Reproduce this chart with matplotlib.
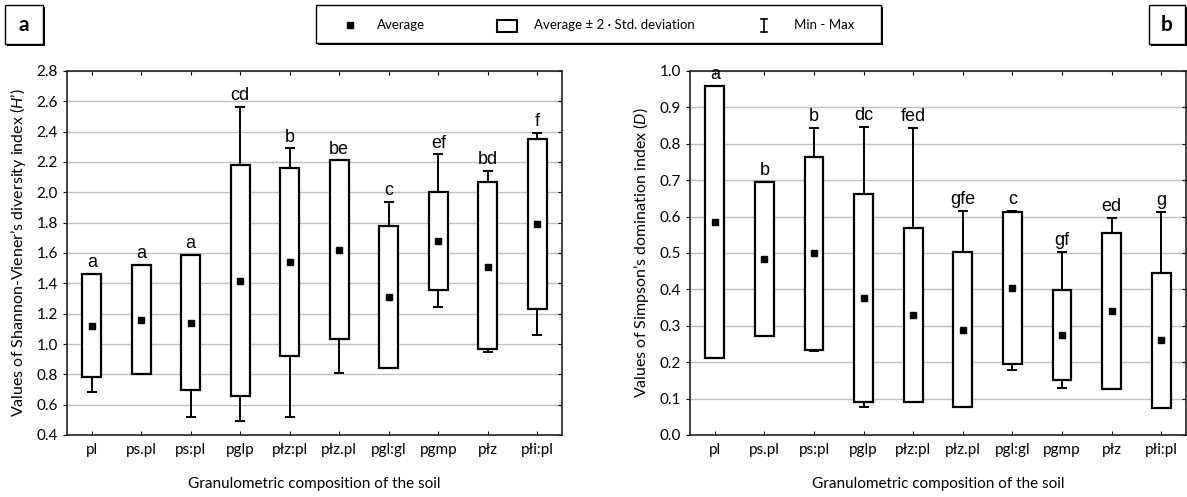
import numpy as np
import matplotlib
matplotlib.use("Agg")
import matplotlib.pyplot as plt
from matplotlib.patches import Rectangle

# granulometric groups (x axis)
categories = ["pl", "ps.pl", "ps:pl", "pglp", "płz:pl", "płz.pl", "pgl:gl", "pgmp", "płz", "płi:pl"]

# Shannon-Viener H'
sh_avg = [1.12, 1.16, 1.14, 1.415, 1.54, 1.62, 1.31, 1.68, 1.51, 1.79]
sh_lo = [0.785, 0.80, 0.695, 0.66, 0.92, 1.03, 0.845, 1.355, 0.97, 1.23]
sh_hi = [1.46, 1.52, 1.585, 2.18, 2.16, 2.21, 1.775, 2.005, 2.065, 2.35]
sh_min = [0.685, 0.80, 0.52, 0.49, 0.52, 0.81, 0.845, 1.245, 0.945, 1.06]
sh_max = [1.46, 1.52, 1.585, 2.565, 2.29, 2.21, 1.935, 2.25, 2.14, 2.39]
sh_letters = ["a", "a", "a", "cd", "b", "be", "c", "ef", "bd", "f"]

# Simpson D
si_avg = [0.584, 0.483, 0.50, 0.377, 0.33, 0.288, 0.405, 0.275, 0.34, 0.261]
si_lo = [0.211, 0.273, 0.234, 0.09, 0.092, 0.076, 0.195, 0.152, 0.126, 0.074]
si_hi = [0.96, 0.696, 0.764, 0.663, 0.568, 0.504, 0.612, 0.398, 0.555, 0.444]
si_min = [0.211, 0.273, 0.23, 0.078, 0.092, 0.076, 0.179, 0.128, 0.126, 0.074]
si_max = [0.96, 0.696, 0.843, 0.847, 0.843, 0.616, 0.615, 0.504, 0.596, 0.612]
si_letters = ["a", "b", "b", "dc", "fed", "gfe", "c", "gf", "ed", "g"]

plt.rcParams['font.family'] = ['Lato', 'DejaVu Sans']
plt.rcParams['mathtext.fontset'] = 'custom'
plt.rcParams['mathtext.it'] = 'Lato:italic'
plt.rcParams['mathtext.rm'] = 'Lato'

W, H = 1187, 497
fig = plt.figure(figsize=(W / 100, H / 100), dpi=100)


def draw_panel(ax, avg, lo, hi, vmin, vmax, letters, ylim, yticks, ylabel):
    x = np.arange(len(categories))
    ax.set_xlim(-0.5, len(categories) - 0.5)
    ax.set_ylim(*ylim)
    ax.set_yticks(yticks)
    ax.set_yticklabels([f"{v:.1f}" for v in yticks])
    ax.set_xticks(x, categories)
    ax.yaxis.grid(True, color='#c0c0c0', lw=1)
    ax.set_axisbelow(True)

    lo, hi = np.array(lo), np.array(hi)
    # whiskers + caps, box drawn on top
    ax.vlines(x, hi, vmax, color='black', lw=1.4, zorder=2)
    ax.vlines(x, vmin, lo, color='black', lw=1.4, zorder=2)
    ax.hlines(vmax, x - 0.1, x + 0.1, color='black', lw=1.4, zorder=2)
    ax.hlines(vmin, x - 0.1, x + 0.1, color='black', lw=1.4, zorder=2)
    ax.bar(x, hi - lo, bottom=lo, width=0.38, color='white',
           edgecolor='black', lw=1.6, zorder=3)
    ax.plot(x, avg, 's', color='black', ms=4.5, zorder=4)

    for xi, top, lab in zip(x, vmax, letters):
        ax.annotate(lab, (xi, top), xytext=(0, 2), textcoords='offset points',
                    ha='center', va='bottom', fontsize=13,
                    family=['Liberation Sans', 'DejaVu Sans'], zorder=5)

    ax.tick_params(axis='x', direction='in', top=True, length=3, labelsize=11, pad=6)
    ax.tick_params(axis='y', which='both', left=True, right=True, length=3,
                   labelsize=11, direction='out')
    for t in ax.yaxis.get_major_ticks():
        t.tick2line.set_marker(matplotlib.lines.TICKLEFT)
    for s in ax.spines.values():
        s.set_linewidth(1.2)
        s.set_color('#222222')
    ax.set_ylabel(ylabel, fontsize=11.5, labelpad=6)
    ax.set_xlabel("Granulometric composition of the soil", fontsize=11, labelpad=14)


ax1 = fig.add_axes([67 / W, 1 - 435 / H, 495 / W, 364 / H])
draw_panel(ax1, sh_avg, sh_lo, sh_hi, sh_min, sh_max, sh_letters,
           (0.4, 2.8), np.arange(0.4, 2.81, 0.2),
           "Values of Shannon-Viener’s diversity index ($\\mathit{H}$’)")

ax2 = fig.add_axes([690 / W, 1 - 435 / H, 496 / W, 364 / H])
draw_panel(ax2, si_avg, si_lo, si_hi, si_min, si_max, si_letters,
           (0.0, 1.0), np.arange(0.0, 1.01, 0.1),
           "Values of Simpson’s domination index ($\\mathit{D}$)")

# overlay in pixel coordinates for legend and panel labels
ov = fig.add_axes([0, 0, 1, 1])
ov.set_xlim(0, W)
ov.set_ylim(H, 0)
ov.axis('off')
ov.patch.set_alpha(0)


def shadow_box(x, y, w, h):
    ov.add_patch(Rectangle((x + 2, y + 2), w, h, fc='black', ec='none'))
    ov.add_patch(Rectangle((x, y), w, h, fc='white', ec='black', lw=1))


shadow_box(316, 5, 565, 38)
ov.plot([350], [25], 's', color='black', ms=4)
ov.text(377, 25, "Average", fontsize=9.5, va='center')
ov.add_patch(Rectangle((497, 20), 20, 12, fc='white', ec='black', lw=1.5))
ov.text(534, 25, "Average ± 2 · Std. deviation", fontsize=9.5, va='center')
ov.plot([764, 764], [19, 32], color='black', lw=1.2)
ov.plot([761, 767], [19, 19], color='black', lw=1.2)
ov.plot([761, 767], [32, 32], color='black', lw=1.2)
ov.text(794, 25, "Min - Max", fontsize=9.5, va='center')

shadow_box(5, 5, 38, 39)
ov.text(24, 25, "a", fontsize=15, fontweight='bold', ha='center', va='center')
shadow_box(1149, 5, 36, 39)
ov.text(1167, 25, "b", fontsize=15, fontweight='bold', ha='center', va='center')

fig.savefig("out.png", dpi=100)
